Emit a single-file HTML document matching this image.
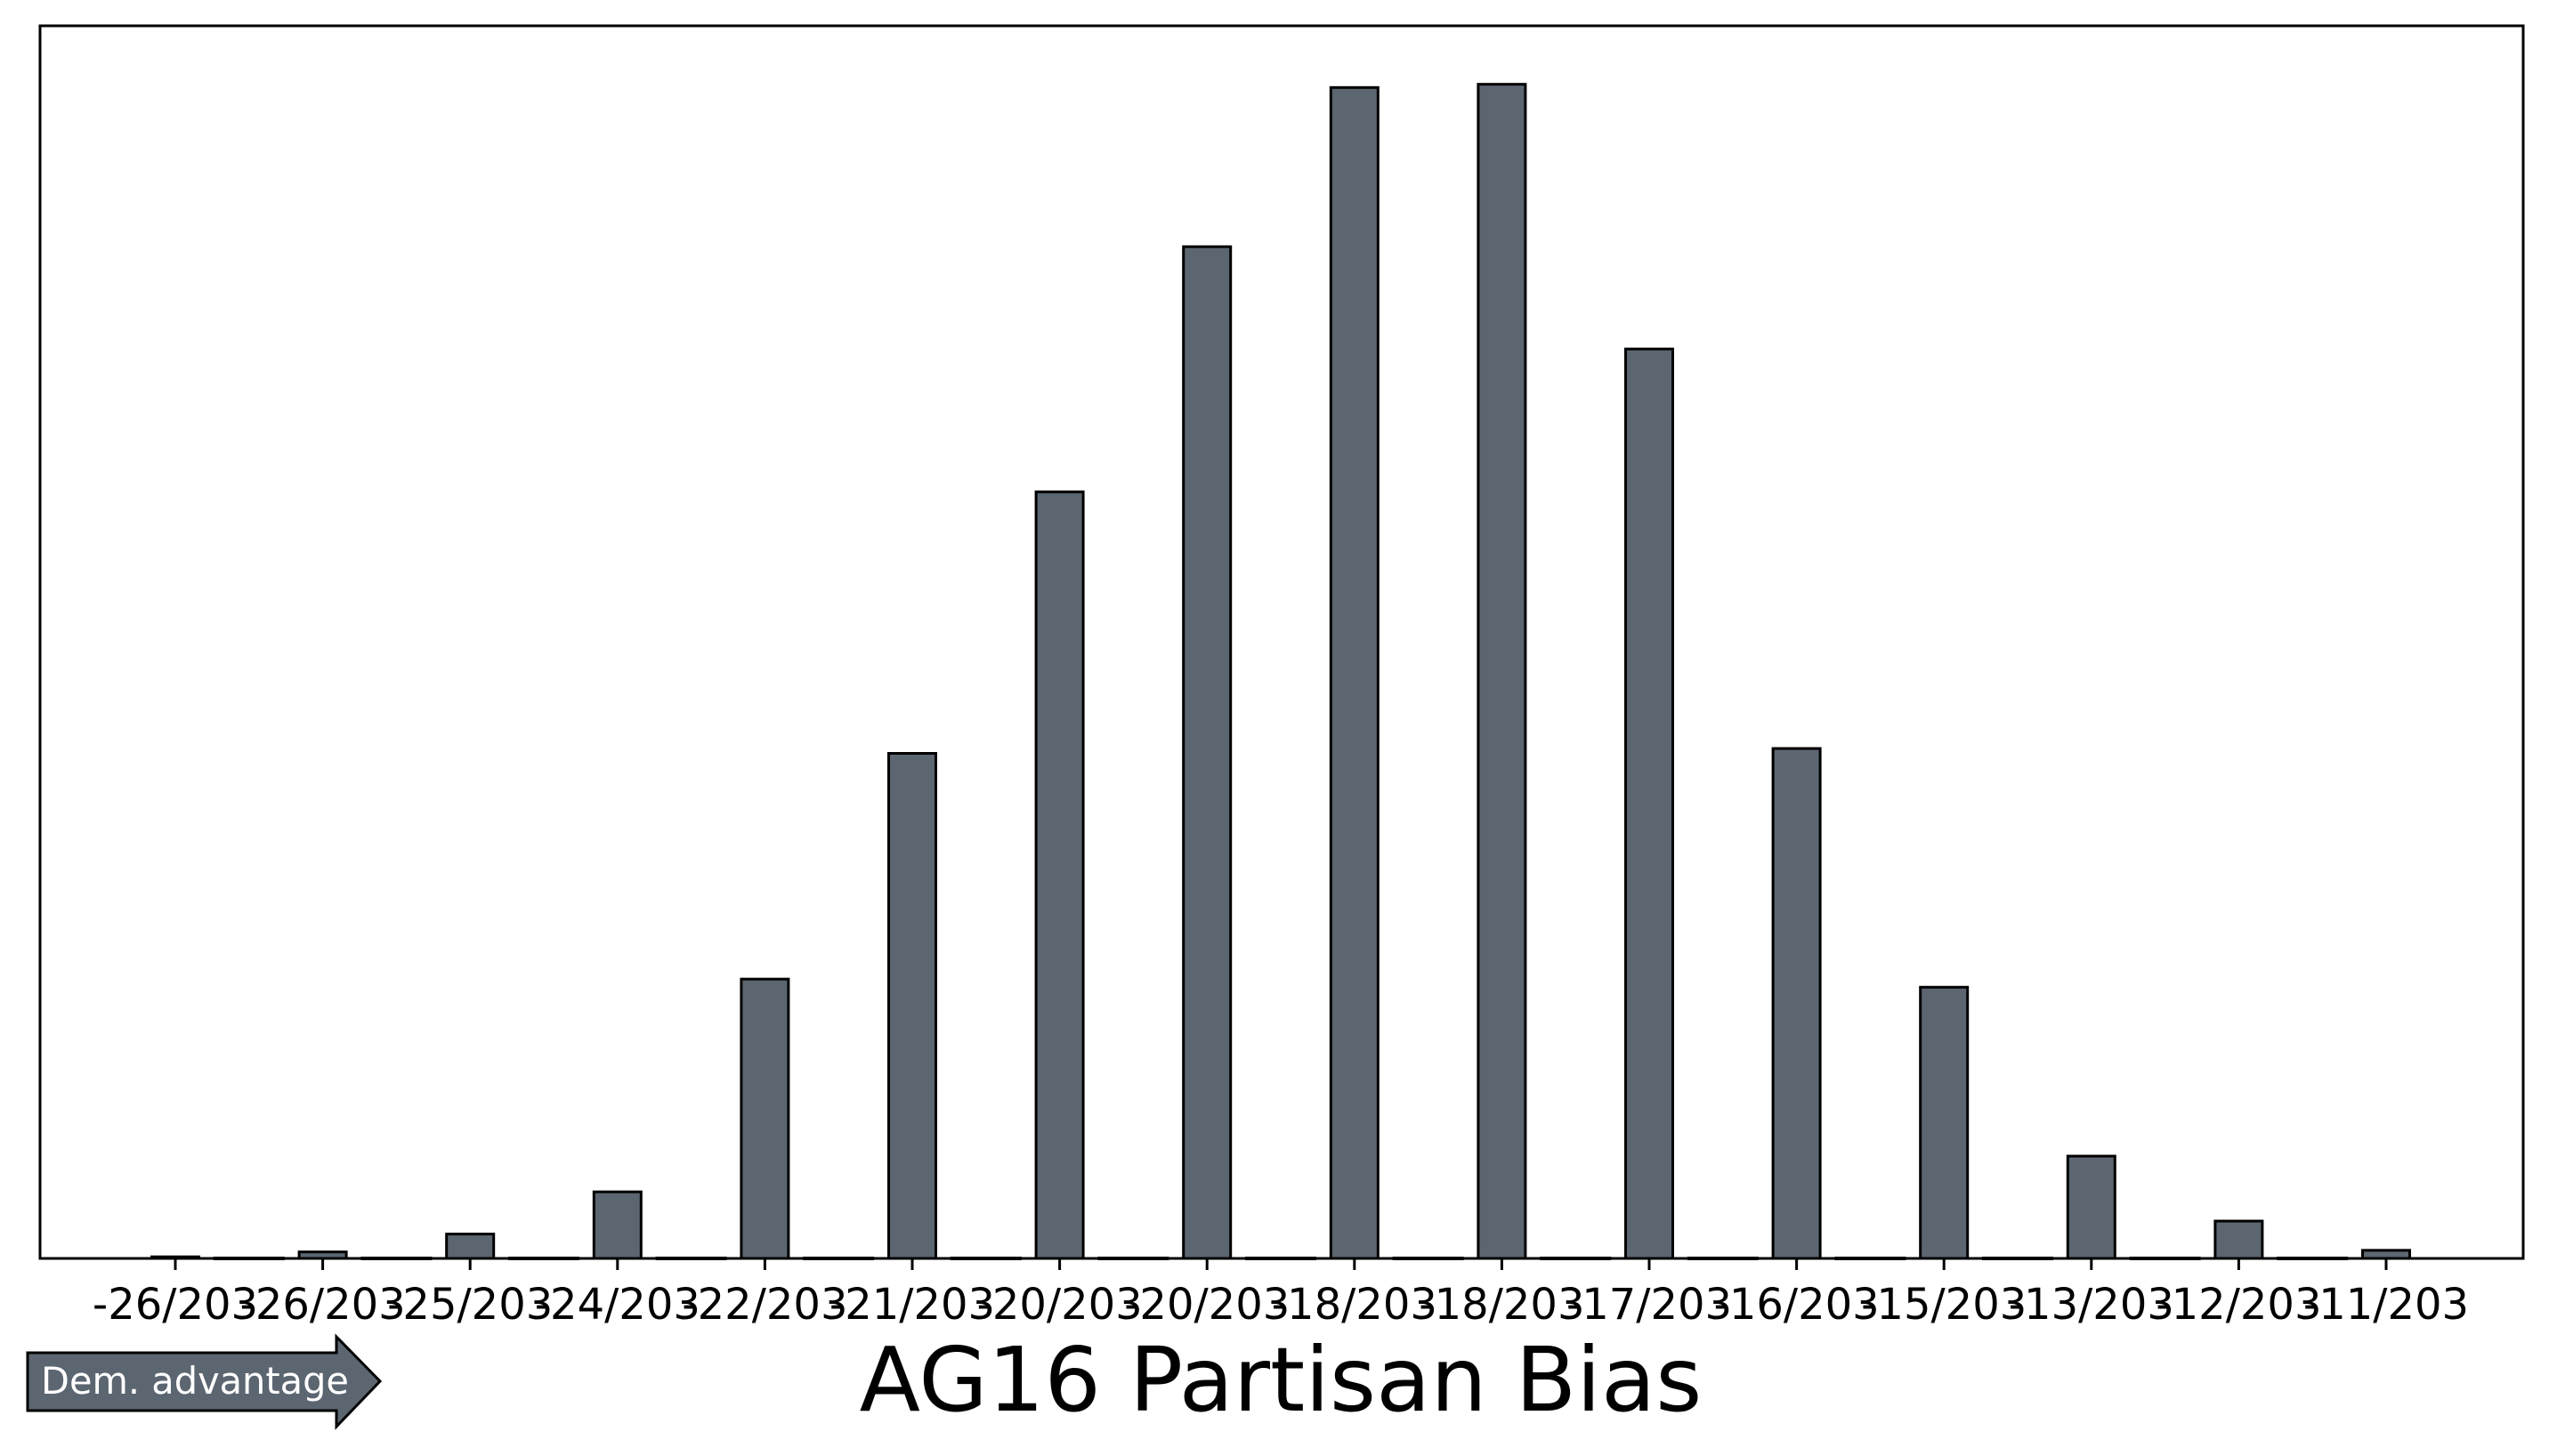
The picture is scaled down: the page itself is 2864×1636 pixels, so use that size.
<!DOCTYPE html>
<html><head><meta charset="utf-8"><style>
html,body{margin:0;padding:0;background:#fff;}
svg{display:block;font-family:"DejaVu Sans","Liberation Sans",sans-serif;}
</style></head><body>
<svg id="chart" width="2864" height="1636" viewBox="0 0 2864 1636" xmlns="http://www.w3.org/2000/svg">
<g id="bars"></g>
<g id="zeros"></g>
<rect x="45" y="29" width="2790" height="1385" fill="none" stroke="#000" stroke-width="3"/>
<g id="xaxis"></g>
<text x="1439" y="1585" font-size="100" text-anchor="middle" fill="#000">AG16 Partisan Bias</text>
<g>
<polygon points="31,1520 378,1520 378,1502 427,1552 378,1603 378,1585 31,1585" fill="#5c6670" stroke="#000" stroke-width="3"/>
<text x="46" y="1566" font-size="41.5" fill="#fff">Dem. advantage</text>
</g>
</svg>
<script>
const categories = ["-26/203","-26/203","-25/203","-24/203","-22/203","-21/203","-20/203","-20/203","-18/203","-18/203","-17/203","-16/203","-15/203","-13/203","-12/203","-11/203"];
const values = [1,4,15,41,172,311,472,623,721,723,560,314,167,63,23,5];
const yMax = 759;
const NS="http://www.w3.org/2000/svg";
const L=45,R=2835,T=29,B=1414;
const x0=197,step=165.6,bw=53;
function xPos(i){return x0+i*step;}
function yPos(v){return B-(v/yMax)*(B-T);}
const bars=document.getElementById('bars'),zeros=document.getElementById('zeros'),xa=document.getElementById('xaxis');
values.forEach((v,i)=>{
  const r=document.createElementNS(NS,'rect');
  
  
  const y=yPos(v);
  r.setAttribute('x',xPos(i)-bw/2);r.setAttribute('y',y);r.setAttribute('width',bw);r.setAttribute('height',B-y);
  r.setAttribute('fill','#5c6670');r.setAttribute('stroke','#000');r.setAttribute('stroke-width','3');
  bars.appendChild(r);
  if(i<values.length-1){
    const z=document.createElementNS(NS,'line');
    
    
    const m=xPos(i)+step/2;
    z.setAttribute('x1',m-40);z.setAttribute('x2',m+40);z.setAttribute('y1',B);z.setAttribute('y2',B);
    z.setAttribute('stroke','#000');z.setAttribute('stroke-width','4');
    zeros.appendChild(z);
  }
  const t=document.createElementNS(NS,'line');
  
  
  t.setAttribute('x1',xPos(i));t.setAttribute('x2',xPos(i));t.setAttribute('y1',B);t.setAttribute('y2',B+13);
  t.setAttribute('stroke','#000');t.setAttribute('stroke-width','3');
  xa.appendChild(t);
  const lb=document.createElementNS(NS,'text');
  
  
  lb.setAttribute('x',xPos(i));lb.setAttribute('y',1482);lb.setAttribute('font-size','48');lb.setAttribute('text-anchor','middle');
  lb.textContent=categories[i];
  xa.appendChild(lb);
});
</script>
</body></html>
